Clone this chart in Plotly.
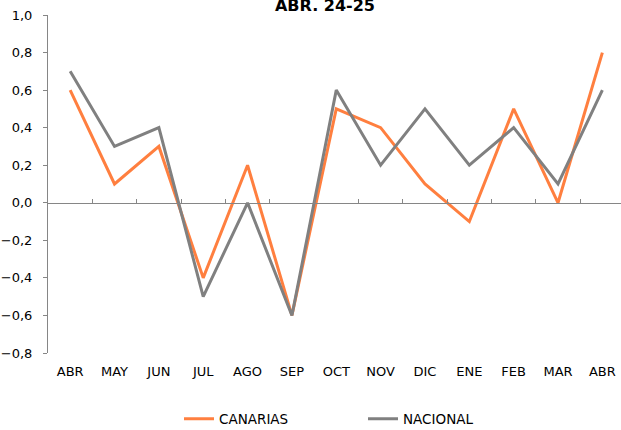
import plotly.graph_objects as go

months = ["ABR", "MAY", "JUN", "JUL", "AGO", "SEP", "OCT", "NOV", "DIC", "ENE", "FEB", "MAR", "ABR"]
canarias = [0.6, 0.1, 0.3, -0.4, 0.2, -0.6, 0.5, 0.4, 0.1, -0.1, 0.5, 0.0, 0.8]
nacional = [0.7, 0.3, 0.4, -0.5, 0.0, -0.6, 0.6, 0.2, 0.5, 0.2, 0.4, 0.1, 0.6]
y_ticks = [-0.8, -0.6, -0.4, -0.2, 0.0, 0.2, 0.4, 0.6, 0.8, 1.0]
title_text = "ABR. 24-25"

FONT = "DejaVu Sans"
idx = list(range(len(months)))
boundaries = [i + 0.5 for i in idx[:-1]]
ymin, ymax = -0.8, 1.0

fig = go.Figure()
fig.add_trace(go.Scatter(x=idx, y=canarias, mode="lines", name="CANARIAS",
                         line=dict(color="#FF7F3F", width=3)))
fig.add_trace(go.Scatter(x=idx, y=nacional, mode="lines", name="NACIONAL",
                         line=dict(color="#808080", width=3)))
# invisible trace on the label axis
fig.add_trace(go.Scatter(x=idx, y=[None] * len(idx), xaxis="x2", showlegend=False,
                         hoverinfo="skip", mode="lines"))

xr = [-0.5, 12.42]
fig.update_layout(
    width=621, height=430,
    margin=dict(l=48, r=0, t=15, b=77, autoexpand=False),
    paper_bgcolor="white", plot_bgcolor="white",
    font=dict(family=FONT, size=13, color="#000000"),
    separators=",.",
    title=dict(text="<b>" + title_text + "</b>", font=dict(family=FONT, size=16, color="#000"),
               x=325 / 621, xref="container", xanchor="center",
               y=1 - 5 / 430, yref="container", yanchor="middle", automargin=False),
    xaxis=dict(range=xr, anchor="free", position=(0 - ymin) / (ymax - ymin),
               showline=True, linecolor="#868686", linewidth=1,
               tickmode="array", tickvals=boundaries, showticklabels=False,
               ticks="inside", ticklen=4, tickcolor="#868686",
               showgrid=False, zeroline=False, automargin=False),
    xaxis2=dict(range=xr, overlaying="x", anchor="y", side="bottom",
                tickmode="array", tickvals=idx, ticktext=months,
                ticks="", showline=False, showgrid=False, zeroline=False,
                ticklabelstandoff=9, tickfont=dict(family=FONT, size=13),
                automargin=False),
    yaxis=dict(range=[ymin, ymax], tickmode="array", tickvals=y_ticks,
               tickformat=".1f", showline=True, linecolor="#868686", linewidth=1,
               ticks="outside", ticklen=4, tickcolor="#868686",
               showgrid=False, zeroline=False, ticklabelstandoff=8,
               automargin=False),
    legend=dict(orientation="h", x=179 / 621, xref="container", xanchor="left",
                y=(430 - 419) / 430, yref="container", yanchor="middle",
                entrywidth=139, entrywidthmode="pixels",
                font=dict(family=FONT, size=13.5), itemwidth=30),
    showlegend=True,
)

fig.write_html("out.html", config={"displayModeBar": False},
               post_script="document.body.style.margin='0';document.body.style.overflow='hidden';")
